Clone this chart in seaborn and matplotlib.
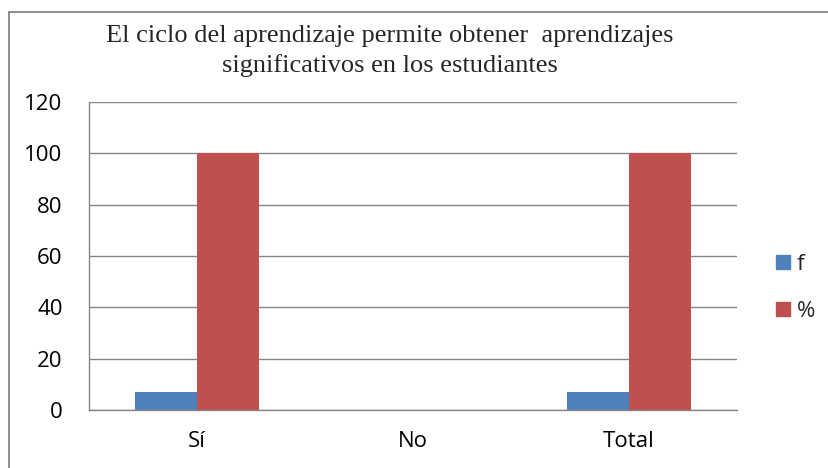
import matplotlib
matplotlib.use("Agg")
import matplotlib.pyplot as plt
import seaborn as sns
import pandas as pd
from matplotlib.lines import Line2D

categories = ["Sí", "No", "Total"]
series_names = ["f", "%"]
f_values = [7, 0, 7]
pct_values = [100, 0, 100]
y_ticks = [0, 20, 40, 60, 80, 100, 120]
title = "El ciclo del aprendizaje permite obtener  aprendizajes\nsignificativos en los estudiantes"
colors = ["#4F81BD", "#C0504D"]

df = pd.DataFrame({
    "cat": categories * 2,
    "serie": [series_names[0]] * 3 + [series_names[1]] * 3,
    "val": f_values + pct_values,
})

sns.set_theme(style="white")
plt.rcParams["font.family"] = ["Open Sans", "DejaVu Sans"]

W, H = 829, 468
fig = plt.figure(figsize=(W / 100, H / 100), dpi=100)
ax = fig.add_axes([89 / W, 1 - 410 / H, (737 - 89) / W, (410 - 102) / H])

sns.barplot(data=df, x="cat", y="val", hue="serie", palette=colors, order=categories,
            hue_order=series_names, width=0.575, gap=0, saturation=1, ax=ax, legend=False,
            edgecolor="none", linewidth=0)

ax.set_ylim(0, 120)
ax.set_yticks(y_ticks)
ax.set_xlim(-0.5, 2.5)
ax.yaxis.grid(True, color="#868686", linewidth=1)
ax.set_axisbelow(True)
for s in ["top", "right"]:
    ax.spines[s].set_visible(False)
for s in ["left", "bottom"]:
    ax.spines[s].set_color("#868686")
    ax.spines[s].set_linewidth(1)
ax.set_xlabel("")
ax.set_ylabel("")
ax.tick_params(axis="both", length=0, labelsize=16, colors="black")
ax.tick_params(axis="y", pad=19)
ax.tick_params(axis="x", pad=15)

fig.text(390 / W, 1 - 51 / H, title, ha="center", va="center", fontsize=19,
         family=["Liberation Serif", "DejaVu Serif"], linespacing=1.4)

handles = [Line2D([], [], marker="s", linestyle="none", markersize=10,
                  markerfacecolor=c, markeredgecolor=c) for c in colors]
fig.legend(handles, series_names, loc="center left", bbox_to_anchor=(750 / W, 1 - 288 / H),
           frameon=False, fontsize=16, labelspacing=1.15, handletextpad=0.0, handlelength=1.2)

border = "#868686"
fig.add_artist(Line2D([9 / W, 1], [1 - 12 / H, 1 - 12 / H], transform=fig.transFigure,
                      color=border, linewidth=1.3))
fig.add_artist(Line2D([9 / W, 9 / W], [0, 1 - 12 / H], transform=fig.transFigure,
                      color=border, linewidth=1.3))

fig.savefig("out.png", dpi=100)
